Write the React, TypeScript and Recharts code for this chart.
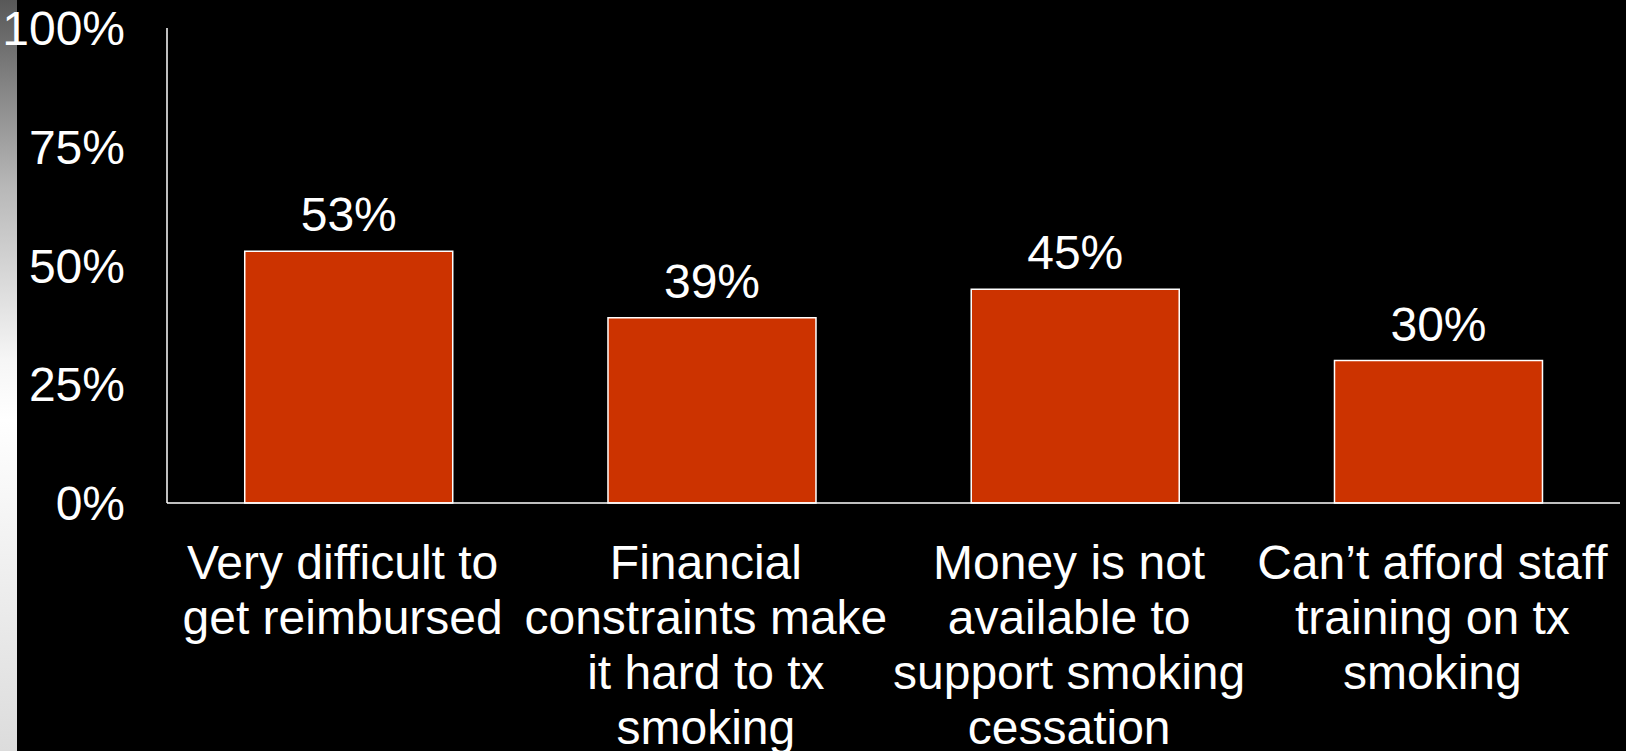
import { BarChart, Bar, XAxis, YAxis, LabelList } from "recharts";

const categories = [
  "Very difficult to get reimbursed",
  "Financial constraints make it hard to tx smoking",
  "Money is not available to support smoking cessation",
  "Can’t afford staff training on tx smoking",
];

const categoryLines = [
  ["Very difficult to", "get reimbursed"],
  ["Financial", "constraints make", "it hard to tx", "smoking"],
  ["Money is not", "available to", "support smoking", "cessation"],
  ["Can’t afford staff", "training on tx", "smoking"],
];

const percentages = [53, 39, 45, 30];

const yTicks = [0, 25, 50, 75, 100];

const data = categories.map((name, i) => ({ name, value: percentages[i] }));

const FONT = "'Liberation Sans', Arial, sans-serif";

function CategoryTick(props: any) {
  const { x, y, index } = props;
  const lines = categoryLines[index] ?? [];
  return (
    <text
      x={x - 6}
      y={y + 76}
      textAnchor="middle"
      fill="#ffffff"
      fontSize={48}
      fontFamily={FONT}
    >
      {lines.map((line, i) => (
        <tspan key={i} x={x - 6} dy={i === 0 ? 0 : 55}>
          {line}
        </tspan>
      ))}
    </text>
  );
}

export default function App() {
  return (
    <div
      style={{
        position: "absolute",
        left: 0,
        top: 0,
        width: 1626,
        height: 751,
        background: "#000000",
        overflow: "hidden",
      }}
    >
      <div
        style={{
          position: "absolute",
          left: 0,
          top: 0,
          width: 17,
          height: 751,
          background:
            "linear-gradient(to bottom, #585858 0%, #b8b8b8 25%, #f6f6f6 48%, #ffffff 56%, #dcdcdc 100%)",
        }}
      />
      <div style={{ position: "absolute", left: 0, top: 0 }}>
        <BarChart
          width={1626}
          height={751}
          data={data}
          margin={{ top: 28, right: 6, bottom: 0, left: 0 }}
          barCategoryGap="21.4%"
        >
          <YAxis
            domain={[0, 100]}
            ticks={yTicks}
            interval={0}
            width={167}
            tickLine={false}
            tickSize={0}
            tickMargin={42}
            axisLine={{ stroke: "#ffffff", strokeWidth: 1.5 }}
            tickFormatter={(v: number) => `${v}%`}
            tick={{ fill: "#ffffff", fontSize: 48, fontFamily: FONT }}
          />
          <XAxis
            dataKey="name"
            height={248}
            interval={0}
            tickLine={false}
            tickSize={0}
            tickMargin={0}
            axisLine={{ stroke: "#ffffff", strokeWidth: 1.5 }}
            tick={<CategoryTick />}
          />
          <Bar
            dataKey="value"
            fill="#CC3300"
            stroke="#ffffff"
            strokeWidth={1.5}
            isAnimationActive={false}
          >
            <LabelList
              dataKey="value"
              position="top"
              offset={20}
              formatter={(v: any) => `${v}%`}
              fill="#ffffff"
              fontSize={48}
              fontFamily={FONT}
            />
          </Bar>
        </BarChart>
      </div>
    </div>
  );
}
